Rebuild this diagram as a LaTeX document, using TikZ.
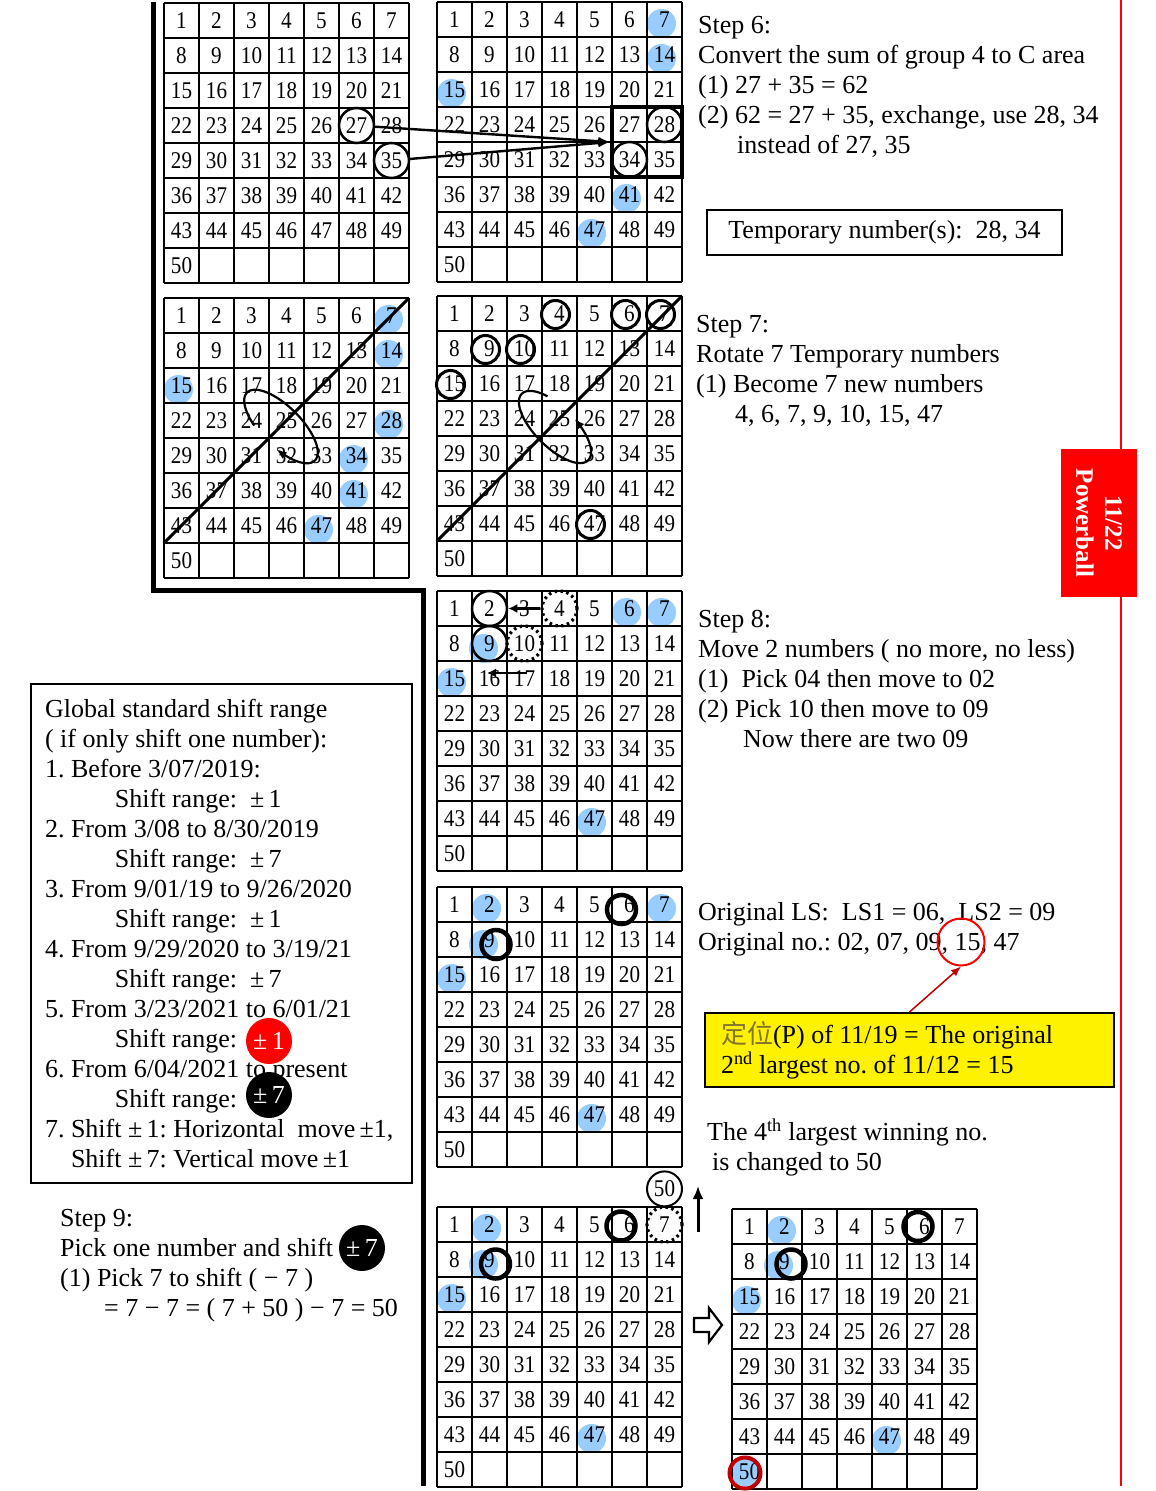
\documentclass[tikz,border=0pt]{standalone}
\usepackage{fontspec}
\setmainfont{Liberation Serif}
\newfontfamily\gridfont[FakeStretch=0.88]{Liberation Serif}
\newfontfamily\cjk{Noto Sans CJK TC}
\usetikzlibrary{arrows.meta,positioning,calc}
\frenchspacing

\pgfdeclarelayer{background}
\pgfsetlayers{background,main}

\definecolor{ballblue}{RGB}{153,204,255}
\definecolor{olivetext}{RGB}{130,115,40}
\definecolor{darkred}{RGB}{192,0,0}

% 7 x 8 number board: name, left, top
\newcommand{\lottogrid}[3]{%
  \foreach \k in {0,...,7}
    \draw[vline] (#2+35*\k,#3) -- (#2+35*\k,#3+280);
  \foreach \k in {0,...,8}
    \draw[hline] (#2,#3+35*\k) -- (#2+245,#3+35*\k);
  \foreach \n in {1,...,50} {
    \pgfmathtruncatemacro{\gcol}{mod(\n-1,7)}
    \pgfmathtruncatemacro{\grow}{(\n-1)/7}
    \node[cell] (#1-\n) at (#2+17.5+35*\gcol,#3+17.5+35*\grow) {\n};
  }}

% blue marks behind the numbers: board, list
\newcommand{\balls}[2]{%
  \begin{pgfonlayer}{background}
    \foreach \n in {#2} \node[ball] at ([xshift=-3pt,yshift=-4pt]#1-\n) {};
  \end{pgfonlayer}}

\begin{document}
\begin{tikzpicture}[
  x=1pt,y=-1pt,
  >=Latex,
  vline/.style={line width=1.2pt},
  hline/.style={line width=1.8pt},
  cell/.style={inner sep=0pt,minimum size=35pt,font=\gridfont\fontsize{24}{24}\selectfont},
  ball/.style={circle,fill=ballblue,minimum size=29pt,inner sep=0pt},
  ring/.style={circle,draw,line width=2.5pt,minimum size=35pt,inner sep=0pt},
  tightring/.style={circle,draw,line width=3pt,minimum size=28pt,inner sep=0pt},
  boldring/.style={circle,draw,line width=4.5pt,minimum size=29pt,inner sep=0pt},
  dotring/.style={circle,draw,line width=3.2pt,dash pattern=on 2.5pt off 3.5pt,minimum size=35pt,inner sep=0pt},
  redring/.style={circle,draw=darkred,line width=4pt,minimum size=31pt,inner sep=0pt},
  hoop/.style={circle,draw=red,line width=2pt,minimum size=47pt,inner sep=0pt},
  note/.style={font=\fontsize{26}{30}\selectfont,align=left,anchor=north west,inner sep=0pt},
  badge/.style={circle,minimum size=46pt,inner sep=0pt,text=white,font=\fontsize{26}{26}\selectfont},
  diag/.style={line width=3pt},
  spin/.style={line width=2.2pt,-{Latex[length=10pt,width=8pt]}},
  swaparrow/.style={line width=2.4pt,-{Latex[length=12pt,width=9pt]}},
  movearrow/.style={line width=2.8pt,-{Latex[length=9pt,width=9pt]}},
  framebox/.style={draw,line width=2pt,inner sep=0pt}
]
  \useasboundingbox (0,0) rectangle (1156,1491);

  % dividers
  \draw[line width=5pt] (153,2) -- (153,590) -- (423,590) -- (423,1486);
  \draw[red,line width=2.5pt] (1121,0) -- (1121,1486);
  \node[fill=red,text=white,rotate=-90,minimum width=148pt,minimum height=76pt,align=center,
        font=\bfseries\fontsize{25}{29}\selectfont] (tab) at (1099,523) {11/22\\Powerball};

  % step 6
  \lottogrid{g1}{164}{3}
  \lottogrid{g2}{437}{2}
  \balls{g2}{7,14,15,41,47}
  \node[ring] (g1r27) at (g1-27) {};
  \node[ring] (g1r35) at (g1-35) {};
  \node[ring] (g2r28) at (g2-28) {};
  \node[ring] (g2r34) at (g2-34) {};
  \node[draw,line width=3.5pt,minimum size=70pt,inner sep=0pt] (g2box) at ($(g2-27)!0.5!(g2-35)$) {};
  \draw[swaparrow] (g1r27) -- (g2box.west);
  \draw[swaparrow] (g1r35) -- (g2box.west);

  \node[note] (step6) at (698,16) {Step 6:\\Convert the sum of group 4 to C area\\(1) 27 + 35 = 62\\(2) 62 = 27 + 35, exchange, use 28, 34\\\hspace*{39pt}instead of 27, 35};
  \node[framebox,minimum width=355pt,minimum height=45pt,font=\fontsize{26}{30}\selectfont] (tempbox) at (884.5,232.5) {Temporary number(s):\ \ 28, 34};

  % step 7
  \lottogrid{g3}{164}{298}
  \lottogrid{g4}{437}{296}
  \balls{g3}{7,14,15,28,34,41,47}
  \foreach \n in {4,6,7,9,10,15,47}
    \node[tightring] (g4r\n) at ([shift={(-4pt,-1pt)}]g4-\n) {};
  \draw[diag] (g3-43.south west) -- (g3-7.north east);
  \draw[diag] (g4-43.south west) -- (g4-7.north east);
  \begin{scope}[shift={(g3-25)}]
    \draw[spin] plot[domain=0:320,samples=90]
      ({-5.5+0.7071*(48*cos(114+\x)-20*sin(114+\x))},{6+0.7071*(48*cos(114+\x)+20*sin(114+\x))});
  \end{scope}
  \begin{scope}[shift={(g4-25)}]
    \draw[spin] plot[domain=0:315,samples=90]
      ({-4.5+0.7071*(47*cos(235-\x)-20*sin(235-\x))},{8.5+0.7071*(47*cos(235-\x)+20*sin(235-\x))});
  \end{scope}

  \node[note] (step7) at (696,315) {Step 7:\\Rotate 7 Temporary numbers\\(1) Become 7 new numbers\\\hspace*{39pt}4, 6, 7, 9, 10, 15, 47};

  % step 8
  \lottogrid{g5}{437}{591}
  \balls{g5}{6,7,15,47}
  \begin{pgfonlayer}{background}
    \node[ball] at ([shift={(-6pt,-5pt)}]g5-9) {};
  \end{pgfonlayer}
  \node[ring] (g5r2) at (g5-2) {};
  \node[ring] (g5r9) at (g5-9) {};
  \node[dotring] (g5d4) at (g5-4) {};
  \node[dotring] (g5d10) at (g5-10) {};
  \draw[movearrow] (g5d4) -- (g5r2);
  \draw[movearrow] ([shift={(2.5pt,5.5pt)}]g5-17.center) -- ([shift={(-2.5pt,5.5pt)}]g5-16.center);

  \node[note] (step8) at (698,610) {Step 8:\\Move 2 numbers ( no more, no less)\\(1)\ \ Pick 04 then move to 02\\(2) Pick 10 then move to 09\\\hspace*{45pt}Now there are two 09};

  % original numbers
  \lottogrid{g6}{437}{887}
  \balls{g6}{2,7,15,47}
  \begin{pgfonlayer}{background}
    \node[ball] at ([shift={(-6pt,-5pt)}]g6-9) {};
  \end{pgfonlayer}
  \node[boldring] (g6r6) at ([shift={(-8pt,-5pt)}]g6-6) {};
  \node[boldring] (g6r9) at ([shift={(6.5pt,-5pt)}]g6-9) {};

  \node[note] (orig) at (698,902) {Original LS:\ \ LS1 = 06,\ \ LS2 = 09\\Original no.: 02, 07, 09, 15, 47};
  \node[hoop] (hoop15) at (961,942) {};
  \node[draw,fill=yellow,line width=2pt,minimum width=409pt,minimum height=74pt,text width=377pt,inner xsep=16pt,
        align=flush left,font=\fontsize{26}{30}\selectfont] (answer) at (909.5,1050)
        {\textcolor{olivetext}{\cjk 定位}(P) of 11/19 = The original\\2\textsuperscript{nd} largest no. of 11/12 = 15};
  \draw[darkred,line width=1.5pt,-{Latex[length=10pt,width=8pt]}] (answer.north) -- (hoop15.south);
  \node[note] (fourth) at (707,1119) {The 4\textsuperscript{th} largest winning no.\\\hspace*{5pt}is changed to 50};

  % rules box
  \node[framebox,anchor=north west,minimum width=381pt,minimum height=499pt,text width=353pt,inner xsep=14pt,
        align=flush left,font=\fontsize{26}{30}\selectfont] (rules) at (30,683)
        {Global standard shift range\\( if only shift one number):\\1. Before 3/07/2019:\\\hspace*{70pt}Shift range:\ \ ±\,1\\
         2. From 3/08 to 8/30/2019\\\hspace*{70pt}Shift range:\ \ ±\,7\\3. From 9/01/19 to 9/26/2020\\\hspace*{70pt}Shift range:\ \ ±\,1\\
         4. From 9/29/2020 to 3/19/21\\\hspace*{70pt}Shift range:\ \ ±\,7\\5. From 3/23/2021 to 6/01/21\\\hspace*{70pt}Shift range:\\
         6. From 6/04/2021 to present\\\hspace*{70pt}Shift range:\\7. Shift ±\,1: Horizontal\ \ move\,±1,\\\hspace*{26pt}Shift ±\,7: Vertical move\,±1};
  \node[badge,fill=red] (plusone) at (269,1041) {±\,1};
  \node[badge,fill=black] (plusseven) at (269,1095) {±\,7};

  % step 9
  \node[note] (step9) at (60,1209) {Step 9:\\Pick one number and shift\\(1) Pick 7 to shift ( − 7 )\\\hspace*{44pt}= 7 − 7 = ( 7 + 50 ) − 7 = 50};
  \node[badge,fill=black] (stepseven) at (362,1248) {±\,7};

  \lottogrid{g7}{437}{1207}
  \balls{g7}{2,15,47}
  \begin{pgfonlayer}{background}
    \node[ball] at ([shift={(-6pt,-5pt)}]g7-9) {};
  \end{pgfonlayer}
  \node[boldring] (g7r6) at ([shift={(-8.5pt,-1.5pt)}]g7-6) {};
  \node[boldring] (g7r9) at ([shift={(6pt,-4.5pt)}]g7-9) {};
  \node[dotring] (g7d7) at (g7-7) {};
  \node[ring,line width=2pt,font=\gridfont\fontsize{24}{24}\selectfont,above=-2pt of g7d7] (lift50) {50};
  \coordinate (upfoot) at ([shift={(33.5pt,-7.5pt)}]g7-7.center);
  \coordinate (uptop) at ([shift={(33.5pt,38.5pt)}]g7-7.center);
  \draw[line width=3pt,-{Latex[length=13pt,width=11pt]}] (upfoot) -- (uptop);

  \lottogrid{g8}{732}{1209}
  \balls{g8}{2,15,47}
  \begin{pgfonlayer}{background}
    \node[ball] at ([shift={(-6pt,-4pt)}]g8-9) {};
    \node[ball] at ([shift={(-4.5pt,0pt)}]g8-50) {};
  \end{pgfonlayer}
  \node[boldring] (g8r6) at ([shift={(-6.5pt,0pt)}]g8-6) {};
  \node[boldring] (g8r9) at ([shift={(6.5pt,-2.5pt)}]g8-9) {};
  \node[redring] (g8r50) at ([shift={(-4.5pt,-1.5pt)}]g8-50) {};

  % hollow arrow between the two last boards
  \draw[line width=2.2pt,fill=white] (694,1318) -- (709,1318) -- (709,1308) -- (722,1325)
    -- (709,1342) -- (709,1332) -- (694,1332) -- cycle;
\end{tikzpicture}
\end{document}
